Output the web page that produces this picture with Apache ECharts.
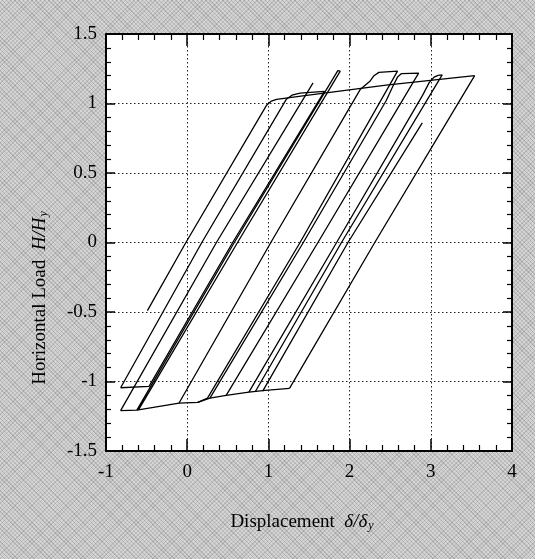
<!DOCTYPE html>
<html>
<head>
<meta charset="utf-8">
<script src="https://cdn.jsdelivr.net/npm/echarts@6/dist/echarts.min.js"></script>
<style>
html,body{margin:0;padding:0;width:535px;height:559px;overflow:hidden;}
body{
  background-color:#d4d4d4;
  background-image:
    repeating-linear-gradient(45deg, rgba(0,0,0,0.13) 0px, rgba(0,0,0,0.13) 1px, transparent 1px, transparent 3px),
    repeating-linear-gradient(-45deg, rgba(0,0,0,0.10) 0px, rgba(0,0,0,0.10) 1px, transparent 1px, transparent 3px);
}
#chart{width:535px;height:559px;}
</style>
</head>
<body>
<div id="chart"></div>
<script>
// Axis ranges and tick labels
var xTicks = [-1, 0, 1, 2, 3, 4];
var yTicks = [-1.5, -1, -0.5, 0, 0.5, 1, 1.5];

// Hysteresis branches: [displacement δ/δy, load H/Hy]
var initialBranch = [[-0.49,-0.49],[-0.016,0],[0.98,0.99],[1.03,1.015],[1.1,1.03],[1.4,1.053],[2.45,1.132],[3.54,1.2]];
var bigUnload     = [[3.54,1.2],[2.31,0],[1.26,-1.05]];
var lowerBranch   = [[1.26,-1.05],[0.96,-1.064],[0.76,-1.077],[0.48,-1.1],[0.28,-1.12],[0.13,-1.15],[-0.1,-1.155],[-0.62,-1.206],[-0.82,-1.21]];
var spike1        = [[-0.82,-1.21],[0.36,0],[1.55,1.148]];
var loopA         = [[-0.82,-1.045],[0.18,0],[1.22,1.03],[1.29,1.06],[1.39,1.075],[1.69,1.087],[0.56,0],[-0.47,-1.035],[-0.82,-1.045]];
var spike2        = [[-0.62,-1.206],[0.58,0],[1.855,1.236],[1.885,1.233],[0.62,0],[-0.6,-1.204]];
var loop1         = [[-0.1,-1.155],[1.03,0],[2.13,1.1],[2.25,1.16],[2.3,1.2],[2.36,1.224],[2.59,1.233],[1.39,0],[0.25,-1.12],[0.13,-1.15]];
var loop2         = [[0.28,-1.12],[1.43,0],[2.45,1.02],[2.53,1.12],[2.59,1.19],[2.64,1.215],[2.85,1.219],[1.61,0],[0.48,-1.1]];
var loop3         = [[0.76,-1.077],[1.84,0],[2.9,1.06],[2.98,1.15],[3.04,1.19],[3.09,1.203],[3.14,1.206],[1.9,0],[0.84,-1.072]];
var finalBranch   = [[0.93,-1.069],[1.98,0],[2.895,0.86]];

var branches = [initialBranch, bigUnload, lowerBranch, spike1, loopA, spike2, loop1, loop2, loop3, finalBranch];

var FONT = '"Liberation Serif","Times New Roman","DejaVu Serif",serif';

function xAxisDef(pos, labels, grid) {
  return {
    type:'value', position:pos, min:xTicks[0], max:xTicks[xTicks.length-1], interval:1,
    axisLine:{show:true, onZero:false, lineStyle:{color:'#000', width:2}},
    axisTick:{show:true, inside:true, length:12, lineStyle:{color:'#000', width:1.5}},
    minorTick:{show:true, splitNumber:5, length:6, lineStyle:{color:'#000', width:1.2}},
    axisLabel:{show:labels, color:'#000', fontFamily:FONT, fontSize:19, margin:12},
    splitLine:{show:grid, lineStyle:{color:'#222', width:1, type:[1.5,2.5]}},
    minorSplitLine:{show:false}
  };
}
function yAxisDef(pos, labels, grid) {
  return {
    type:'value', position:pos, min:yTicks[0], max:yTicks[yTicks.length-1], interval:0.5,
    axisLine:{show:true, onZero:false, lineStyle:{color:'#000', width:2}},
    axisTick:{show:true, inside:true, length:9, lineStyle:{color:'#000', width:1.5}},
    minorTick:{show:true, splitNumber:5, length:5, lineStyle:{color:'#000', width:1.2}},
    axisLabel:{show:labels, color:'#000', fontFamily:FONT, fontSize:19, margin:9},
    splitLine:{show:grid, lineStyle:{color:'#222', width:1, type:[1.5,2.5]}},
    minorSplitLine:{show:false}
  };
}

var series = branches.map(function(b){
  return {
    type:'line', xAxisIndex:0, yAxisIndex:0, data:b, showSymbol:false, symbol:'none',
    lineStyle:{color:'#000', width:1.3}, silent:true, clip:true
  };
});

var chart = echarts.init(document.getElementById('chart'), null, {renderer:'canvas'});
chart.setOption({
  animation:false,
  backgroundColor:'transparent',
  grid:{left:106, top:34, width:406, height:417, show:true, backgroundColor:'#fff', borderWidth:0},
  xAxis:[xAxisDef('bottom', true, true), xAxisDef('top', false, false)],
  yAxis:[yAxisDef('left', true, true), yAxisDef('right', false, false)],
  series:series,
  graphic:[
    {
      type:'text', x:40, y:298, rotation:Math.PI/2,
      style:{
        text:'Horizontal Load  {i|H/H}{s|y}',
        fill:'#000', font:'19px ' + FONT, align:'center', verticalAlign:'middle',
        rich:{
          i:{fontStyle:'italic', fontFamily:FONT, fontSize:19, fill:'#000'},
          s:{fontStyle:'italic', fontFamily:FONT, fontSize:12, fill:'#000', padding:[8,0,0,1]}
        }
      }
    },
    {
      type:'text', x:302, y:522,
      style:{
        text:'Displacement  {i|δ/δ}{s|y}',
        fill:'#000', font:'19px ' + FONT, align:'center', verticalAlign:'middle',
        rich:{
          i:{fontStyle:'italic', fontFamily:FONT, fontSize:19, fill:'#000'},
          s:{fontStyle:'italic', fontFamily:FONT, fontSize:12, fill:'#000', padding:[8,0,0,1]}
        }
      }
    }
  ]
});
</script>
</body>
</html>
